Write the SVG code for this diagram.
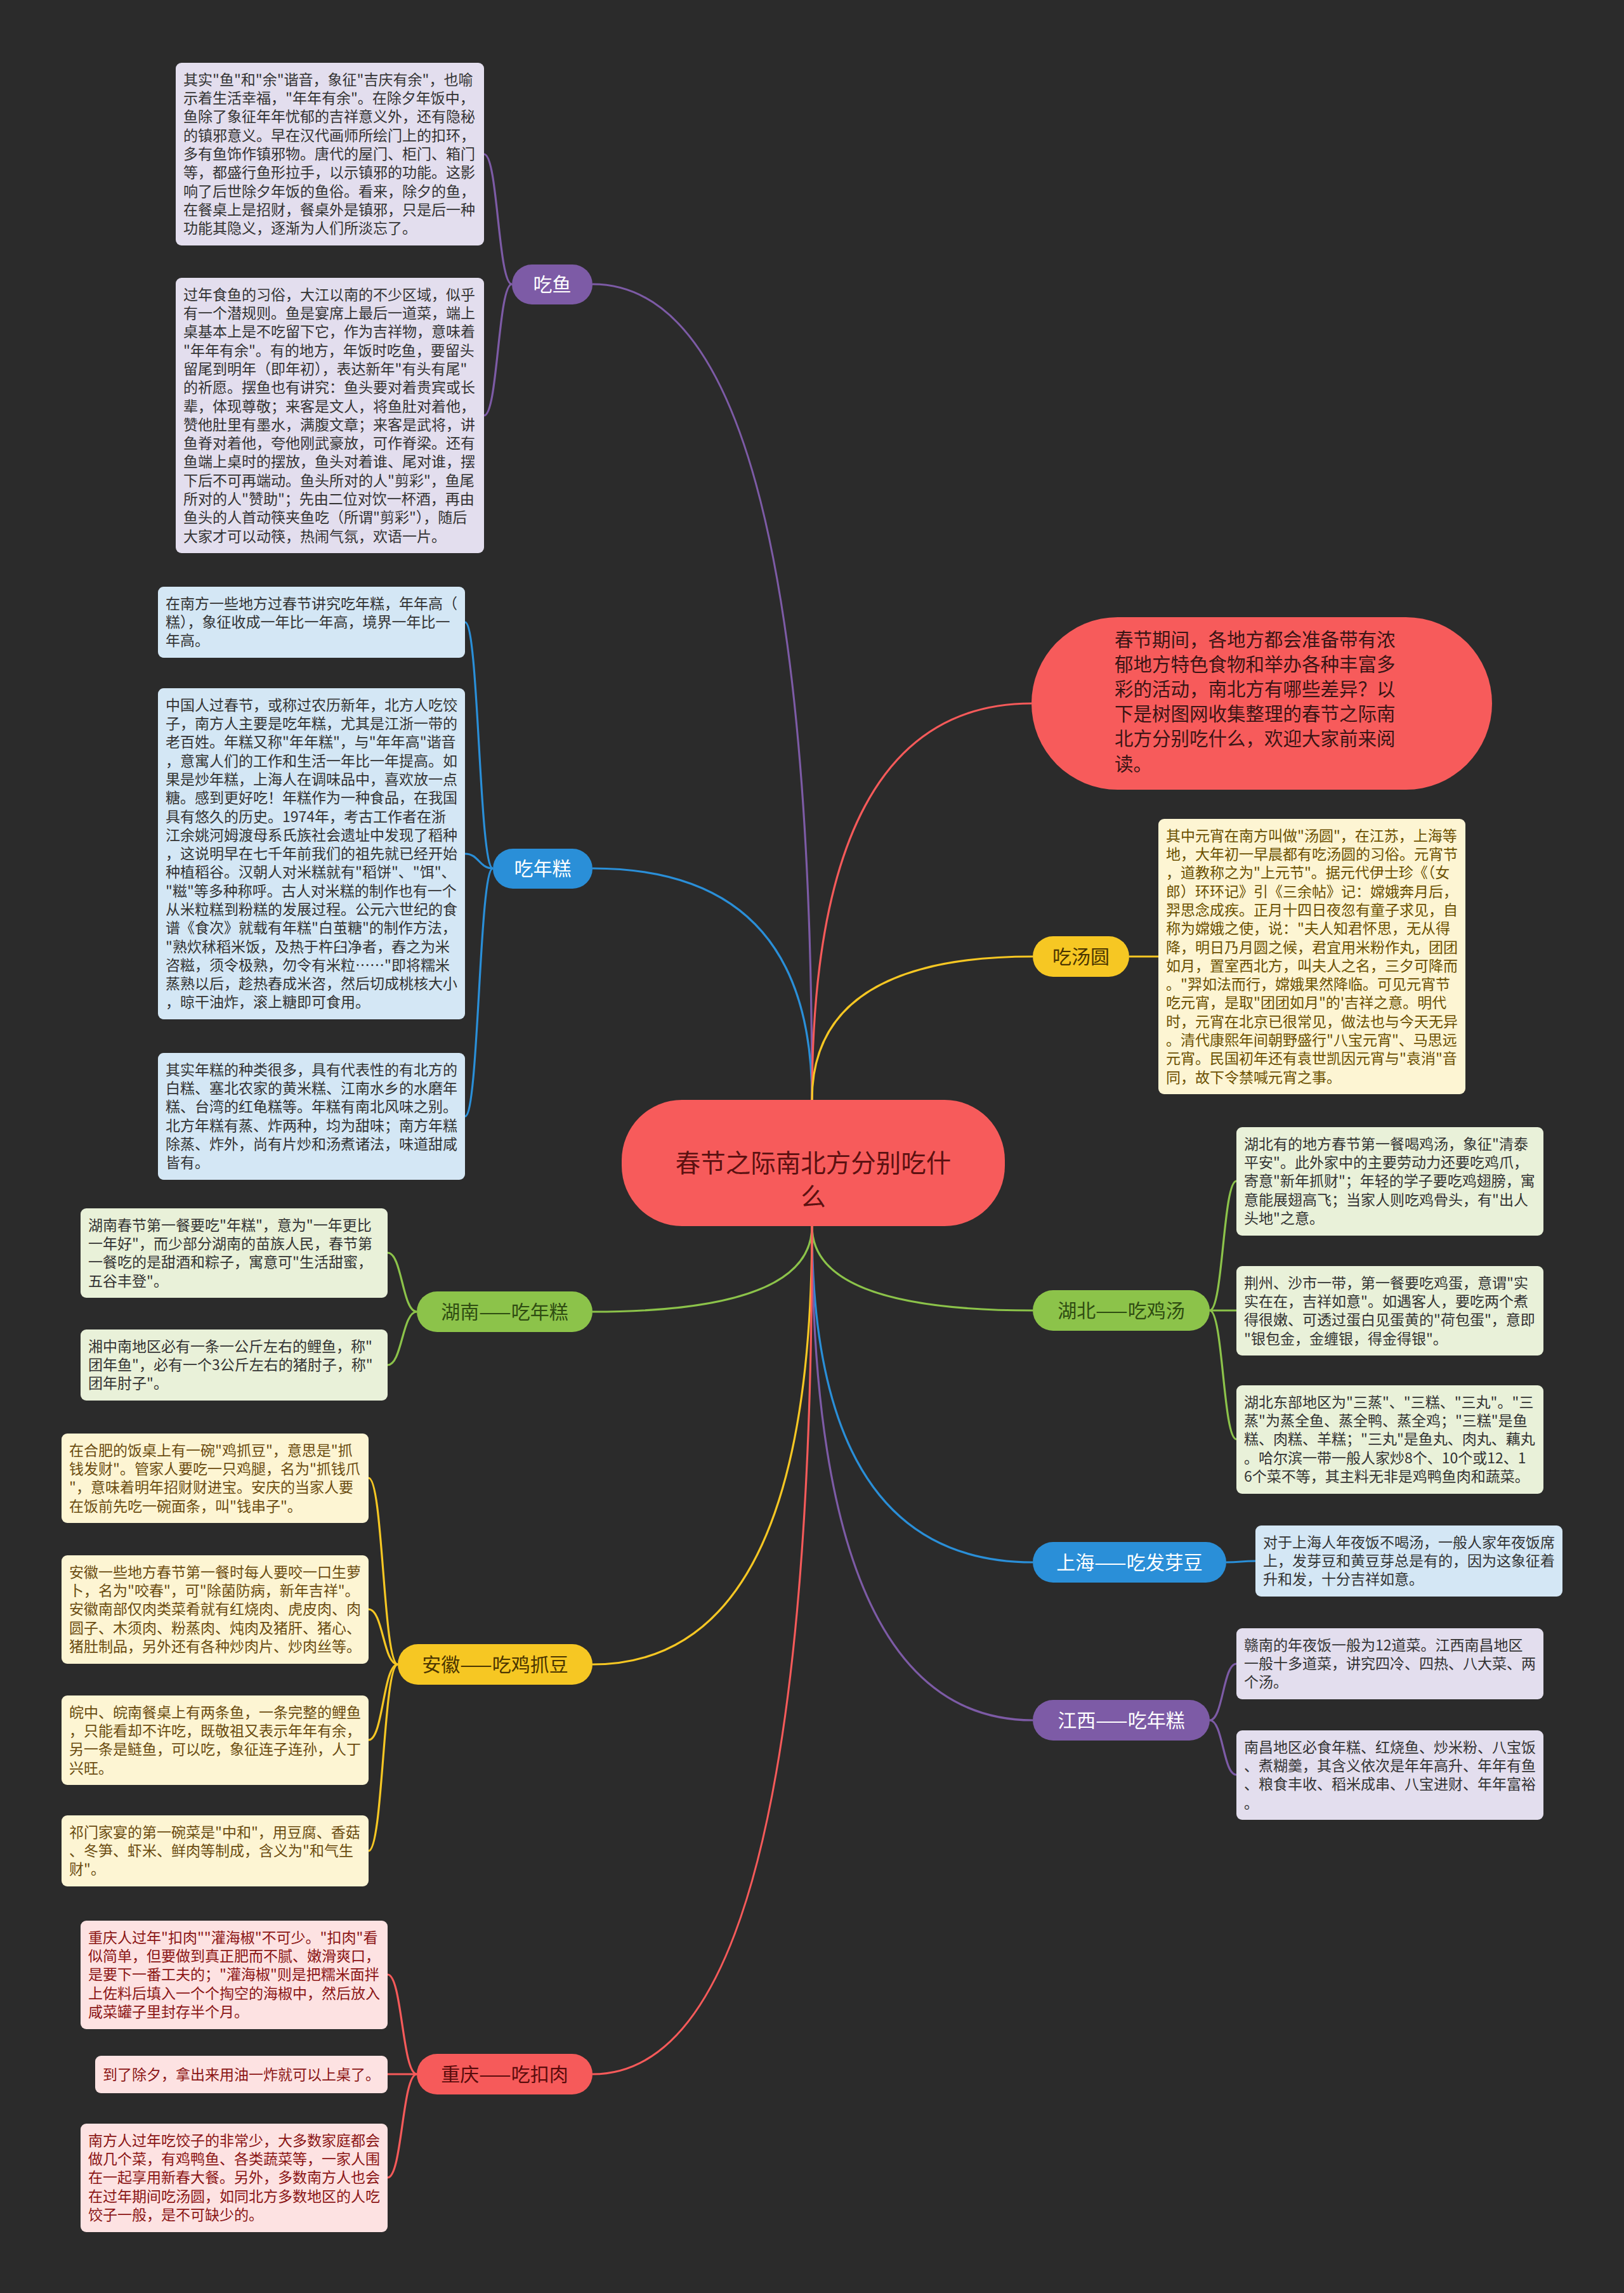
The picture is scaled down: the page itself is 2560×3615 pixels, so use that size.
<svg xmlns="http://www.w3.org/2000/svg" width="2560" height="3615" viewBox="0 0 2560 3615">
<style>
text{font-family:"Noto Sans CJK SC","Noto Sans",sans-serif}
.lt{font-size:23px}
.bt{font-size:30px;text-anchor:middle}
.box{rx:9px;ry:9px}
.c{fill:none;stroke-width:3.2}
.pu{stroke:#7d5ba6}.bl{stroke:#2a8fd8}.ye{stroke:#f6c723}.gr{stroke:#8cc34a}.re{stroke:#f65a5a}
.fpu{fill:#e3deee}.fbl{fill:#d4e7f5}.fye{fill:#fdf5d3}.fgr{fill:#e9f1d9}.fre{fill:#fde2e2}
.tdk{fill:#333333}.tye{fill:#6b5000}.tan{fill:#6b4c10}.tre{fill:#8b1515}
</style>
<rect x="0" y="0" width="2560" height="3615" fill="#2b2b2b"/>

<g id="connectors">
<path class="c pu" d="M1280 1734 Q1280 448 934 448"/>
<path class="c bl" d="M1280 1734 Q1280 1369 934 1369"/>
<path class="c re" d="M1280 1734 Q1280 1109 1626 1109"/>
<path class="c ye" d="M1280 1734 Q1280 1508 1628 1508"/>
<path class="c gr" d="M1280 1933 Q1280 2068 934 2068"/>
<path class="c gr" d="M1280 1933 Q1280 2066 1628 2066"/>
<path class="c bl" d="M1280 1933 Q1280 2463 1628 2463"/>
<path class="c pu" d="M1280 1933 Q1280 2712 1628 2712"/>
<path class="c ye" d="M1280 1933 Q1280 2624 934 2624"/>
<path class="c re" d="M1280 1933 Q1280 3270 934 3270"/>

<path class="c pu" d="M807 448 C785 448 785 243 763 243"/>
<path class="c pu" d="M807 448 C785 448 785 655 763 655"/>
<path class="c bl" d="M777 1369 C755 1369 755 981 733 981"/>
<path class="c bl" d="M777 1369 C755 1369 755 1346 733 1346"/>
<path class="c bl" d="M777 1369 C755 1369 755 1760 733 1760"/>
<path class="c gr" d="M657 2068 C634 2068 634 1975 611 1975"/>
<path class="c gr" d="M657 2068 C634 2068 634 2152 611 2152"/>
<path class="c ye" d="M627 2624 C604 2624 604 2330 581 2330"/>
<path class="c ye" d="M627 2624 C604 2624 604 2537 581 2537"/>
<path class="c ye" d="M627 2624 C604 2624 604 2743 581 2743"/>
<path class="c ye" d="M627 2624 C604 2624 604 2918 581 2918"/>
<path class="c re" d="M657 3270 C634 3270 634 3113 611 3113"/>
<path class="c re" d="M657 3270 C634 3270 634 3270 611 3270"/>
<path class="c re" d="M657 3270 C634 3270 634 3433 611 3433"/>
<path class="c ye" d="M1780 1508 C1803 1508 1803 1508 1826 1508"/>
<path class="c gr" d="M1907 2066 C1928 2066 1928 1862 1949 1862"/>
<path class="c gr" d="M1907 2066 C1928 2066 1928 2066 1949 2066"/>
<path class="c gr" d="M1907 2066 C1928 2066 1928 2269 1949 2269"/>
<path class="c bl" d="M1933 2463 C1956 2463 1956 2461 1979 2461"/>
<path class="c pu" d="M1907 2712 C1928 2712 1928 2623 1949 2623"/>
<path class="c pu" d="M1907 2712 C1928 2712 1928 2798 1949 2798"/>
</g>

<g id="root">
<rect x="980" y="1734" width="604" height="199" rx="95" fill="#f75b5b"/>
<text x="1282" y="1848" font-size="39.5" text-anchor="middle" fill="#5c1111">春节之际南北方分别吃什</text>
<text x="1282" y="1901" font-size="39.5" text-anchor="middle" fill="#5c1111">么</text>
</g>

<g id="intro">
<rect x="1626" y="973" width="726" height="272" rx="136" fill="#f75b5b"/>
<text font-size="29.5" fill="#3a1515">
<tspan x="1757" y="1018.5">春节期间，各地方都会准备带有浓</tspan>
<tspan x="1757" y="1057.7">郁地方特色食物和举办各种丰富多</tspan>
<tspan x="1757" y="1096.9">彩的活动，南北方有哪些差异？以</tspan>
<tspan x="1757" y="1136.1">下是树图网收集整理的春节之际南</tspan>
<tspan x="1757" y="1175.3">北方分别吃什么，欢迎大家前来阅</tspan>
<tspan x="1757" y="1214.5">读。</tspan>
</text>
</g>

<g id="b-chiyu">
<rect x="807" y="417" width="127" height="63" rx="31.5" fill="#7d5ba6"/>
<text class="bt" x="870.5" y="459" fill="#ffffff">吃鱼</text>
</g>
<g id="b-niangao">
<rect x="777" y="1338" width="157" height="63" rx="31.5" fill="#2a8fd8"/>
<text class="bt" x="855.5" y="1380" fill="#ffffff">吃年糕</text>
</g>
<g id="b-tangyuan">
<rect x="1628" y="1476" width="152" height="64" rx="32" fill="#f6c723"/>
<text class="bt" x="1704" y="1518.5" fill="#4a3500">吃汤圆</text>
</g>
<g id="b-hunan">
<rect x="657" y="2036" width="277" height="64" rx="32" fill="#8cc34a"/>
<text class="bt" x="795.5" y="2078.5" fill="#2f4d12">湖南——吃年糕</text>
</g>
<g id="b-hubei">
<rect x="1628" y="2034" width="279" height="64" rx="32" fill="#8cc34a"/>
<text class="bt" x="1767.5" y="2076.5" fill="#2f4d12">湖北——吃鸡汤</text>
</g>
<g id="b-shanghai">
<rect x="1628" y="2431" width="305" height="64" rx="32" fill="#2a8fd8"/>
<text class="bt" x="1780.5" y="2473.5" fill="#ffffff">上海——吃发芽豆</text>
</g>
<g id="b-jiangxi">
<rect x="1628" y="2680" width="279" height="64" rx="32" fill="#7d5ba6"/>
<text class="bt" x="1767.5" y="2722.5" fill="#ffffff">江西——吃年糕</text>
</g>
<g id="b-anhui">
<rect x="627" y="2592" width="307" height="64" rx="32" fill="#f6c723"/>
<text class="bt" x="780.5" y="2634.5" fill="#4a3500">安徽——吃鸡抓豆</text>
</g>
<g id="b-chongqing">
<rect x="657" y="3238" width="277" height="64" rx="32" fill="#f65a5a"/>
<text class="bt" x="795.5" y="3280.5" fill="#5a0c0c">重庆——吃扣肉</text>
</g>

<g id="leaf-a">
<rect class="box fpu" x="277" y="99" width="486" height="288"/>
<text class="lt tdk">
<tspan x="289" y="133.7">其实"鱼"和"余"谐音，象征"吉庆有余"，也喻</tspan>
<tspan x="289" dy="29.3">示着生活幸福，"年年有余"。在除夕年饭中，</tspan>
<tspan x="289" dy="29.3">鱼除了象征年年忧郁的吉祥意义外，还有隐秘</tspan>
<tspan x="289" dy="29.3">的镇邪意义。早在汉代画师所绘门上的扣环，</tspan>
<tspan x="289" dy="29.3">多有鱼饰作镇邪物。唐代的屋门、柜门、箱门</tspan>
<tspan x="289" dy="29.3">等，都盛行鱼形拉手，以示镇邪的功能。这影</tspan>
<tspan x="289" dy="29.3">响了后世除夕年饭的鱼俗。看来，除夕的鱼，</tspan>
<tspan x="289" dy="29.3">在餐桌上是招财，餐桌外是镇邪，只是后一种</tspan>
<tspan x="289" dy="29.3">功能其隐义，逐渐为人们所淡忘了。</tspan>
</text>
</g>

<g id="leaf-b">
<rect class="box fpu" x="277" y="438" width="486" height="434"/>
<text class="lt tdk">
<tspan x="289" y="472.7">过年食鱼的习俗，大江以南的不少区域，似乎</tspan>
<tspan x="289" dy="29.3">有一个潜规则。鱼是宴席上最后一道菜，端上</tspan>
<tspan x="289" dy="29.3">桌基本上是不吃留下它，作为吉祥物，意味着</tspan>
<tspan x="289" dy="29.3">"年年有余"。有的地方，年饭时吃鱼，要留头</tspan>
<tspan x="289" dy="29.3">留尾到明年（即年初），表达新年"有头有尾"</tspan>
<tspan x="289" dy="29.3">的祈愿。摆鱼也有讲究：鱼头要对着贵宾或长</tspan>
<tspan x="289" dy="29.3">辈，体现尊敬；来客是文人，将鱼肚对着他，</tspan>
<tspan x="289" dy="29.3">赞他肚里有墨水，满腹文章；来客是武将，讲</tspan>
<tspan x="289" dy="29.3">鱼脊对着他，夸他刚武豪放，可作脊梁。还有</tspan>
<tspan x="289" dy="29.3">鱼端上桌时的摆放，鱼头对着谁、尾对谁，摆</tspan>
<tspan x="289" dy="29.3">下后不可再端动。鱼头所对的人"剪彩"，鱼尾</tspan>
<tspan x="289" dy="29.3">所对的人"赞助"；先由二位对饮一杯酒，再由</tspan>
<tspan x="289" dy="29.3">鱼头的人首动筷夹鱼吃（所谓"剪彩"），随后</tspan>
<tspan x="289" dy="29.3">大家才可以动筷，热闹气氛，欢语一片。</tspan>
</text>
</g>

<g id="leaf-c">
<rect class="box fbl" x="249" y="925" width="484" height="112"/>
<text class="lt tdk">
<tspan x="261" y="959.7">在南方一些地方过春节讲究吃年糕，年年高（</tspan>
<tspan x="261" dy="29.3">糕），象征收成一年比一年高，境界一年比一</tspan>
<tspan x="261" dy="29.3">年高。</tspan>
</text>
</g>

<g id="leaf-d">
<rect class="box fbl" x="249" y="1085" width="484" height="522"/>
<text class="lt tdk">
<tspan x="261" y="1119.7">中国人过春节，或称过农历新年，北方人吃饺</tspan>
<tspan x="261" dy="29.3">子，南方人主要是吃年糕，尤其是江浙一带的</tspan>
<tspan x="261" dy="29.3">老百姓。年糕又称"年年糕"，与"年年高"谐音</tspan>
<tspan x="261" dy="29.3">，意寓人们的工作和生活一年比一年提高。如</tspan>
<tspan x="261" dy="29.3">果是炒年糕，上海人在调味品中，喜欢放一点</tspan>
<tspan x="261" dy="29.3">糖。感到更好吃！年糕作为一种食品，在我国</tspan>
<tspan x="261" dy="29.3">具有悠久的历史。1974年，考古工作者在浙</tspan>
<tspan x="261" dy="29.3">江余姚河姆渡母系氏族社会遗址中发现了稻种</tspan>
<tspan x="261" dy="29.3">，这说明早在七千年前我们的祖先就已经开始</tspan>
<tspan x="261" dy="29.3">种植稻谷。汉朝人对米糕就有"稻饼"、"饵"、</tspan>
<tspan x="261" dy="29.3">"糍"等多种称呼。古人对米糕的制作也有一个</tspan>
<tspan x="261" dy="29.3">从米粒糕到粉糕的发展过程。公元六世纪的食</tspan>
<tspan x="261" dy="29.3">谱《食次》就载有年糕"白茧糖"的制作方法，</tspan>
<tspan x="261" dy="29.3">"熟炊秫稻米饭，及热于杵臼净者，舂之为米</tspan>
<tspan x="261" dy="29.3">咨糍，须令极熟，勿令有米粒……"即将糯米</tspan>
<tspan x="261" dy="29.3">蒸熟以后，趁热舂成米咨，然后切成桃核大小</tspan>
<tspan x="261" dy="29.3">，晾干油炸，滚上糖即可食用。</tspan>
</text>
</g>

<g id="leaf-e">
<rect class="box fbl" x="249" y="1660" width="484" height="200"/>
<text class="lt tdk">
<tspan x="261" y="1694.7">其实年糕的种类很多，具有代表性的有北方的</tspan>
<tspan x="261" dy="29.3">白糕、塞北农家的黄米糕、江南水乡的水磨年</tspan>
<tspan x="261" dy="29.3">糕、台湾的红龟糕等。年糕有南北风味之别。</tspan>
<tspan x="261" dy="29.3">北方年糕有蒸、炸两种，均为甜味；南方年糕</tspan>
<tspan x="261" dy="29.3">除蒸、炸外，尚有片炒和汤煮诸法，味道甜咸</tspan>
<tspan x="261" dy="29.3">皆有。</tspan>
</text>
</g>

<g id="leaf-f">
<rect class="box fye" x="1826" y="1291" width="484" height="434"/>
<text class="lt tye">
<tspan x="1838" y="1325.7">其中元宵在南方叫做"汤圆"，在江苏，上海等</tspan>
<tspan x="1838" dy="29.3">地，大年初一早晨都有吃汤圆的习俗。元宵节</tspan>
<tspan x="1838" dy="29.3">，道教称之为"上元节"。据元代伊士珍《（女</tspan>
<tspan x="1838" dy="29.3">郎）环环记》引《三余帖》记：嫦娥奔月后，</tspan>
<tspan x="1838" dy="29.3">羿思念成疾。正月十四日夜忽有童子求见，自</tspan>
<tspan x="1838" dy="29.3">称为嫦娥之使，说："夫人知君怀思，无从得</tspan>
<tspan x="1838" dy="29.3">降，明日乃月圆之候，君宜用米粉作丸，团团</tspan>
<tspan x="1838" dy="29.3">如月，置室西北方，叫夫人之名，三夕可降而</tspan>
<tspan x="1838" dy="29.3">。"羿如法而行，嫦娥果然降临。可见元宵节</tspan>
<tspan x="1838" dy="29.3">吃元宵，是取"团团如月"的'吉祥之意。明代</tspan>
<tspan x="1838" dy="29.3">时，元宵在北京已很常见，做法也与今天无异</tspan>
<tspan x="1838" dy="29.3">。清代康熙年间朝野盛行"八宝元宵"、马思远</tspan>
<tspan x="1838" dy="29.3">元宵。民国初年还有袁世凯因元宵与"袁消"音</tspan>
<tspan x="1838" dy="29.3">同，故下令禁喊元宵之事。</tspan>
</text>
</g>

<g id="leaf-g1">
<rect class="box fgr" x="1949" y="1777" width="484" height="171"/>
<text class="lt tdk">
<tspan x="1961" y="1811.7">湖北有的地方春节第一餐喝鸡汤，象征"清泰</tspan>
<tspan x="1961" dy="29.3">平安"。此外家中的主要劳动力还要吃鸡爪，</tspan>
<tspan x="1961" dy="29.3">寄意"新年抓财"；年轻的学子要吃鸡翅膀，寓</tspan>
<tspan x="1961" dy="29.3">意能展翅高飞；当家人则吃鸡骨头，有"出人</tspan>
<tspan x="1961" dy="29.3">头地"之意。</tspan>
</text>
</g>

<g id="leaf-g2">
<rect class="box fgr" x="1949" y="1996" width="484" height="141"/>
<text class="lt tdk">
<tspan x="1961" y="2030.7">荆州、沙市一带，第一餐要吃鸡蛋，意谓"实</tspan>
<tspan x="1961" dy="29.3">实在在，吉祥如意"。如遇客人，要吃两个煮</tspan>
<tspan x="1961" dy="29.3">得很嫩、可透过蛋白见蛋黄的"荷包蛋"，意即</tspan>
<tspan x="1961" dy="29.3">"银包金，金缠银，得金得银"。</tspan>
</text>
</g>

<g id="leaf-g3">
<rect class="box fgr" x="1949" y="2184" width="484" height="171"/>
<text class="lt tdk">
<tspan x="1961" y="2218.7">湖北东部地区为"三蒸"、"三糕、"三丸"。"三</tspan>
<tspan x="1961" dy="29.3">蒸"为蒸全鱼、蒸全鸭、蒸全鸡；"三糕"是鱼</tspan>
<tspan x="1961" dy="29.3">糕、肉糕、羊糕；"三丸"是鱼丸、肉丸、藕丸</tspan>
<tspan x="1961" dy="29.3">。哈尔滨一带一般人家炒8个、10个或12、1</tspan>
<tspan x="1961" dy="29.3">6个菜不等，其主料无非是鸡鸭鱼肉和蔬菜。</tspan>
</text>
</g>

<g id="leaf-h1">
<rect class="box fgr" x="127" y="1905" width="484" height="141"/>
<text class="lt tdk">
<tspan x="139" y="1939.7">湖南春节第一餐要吃"年糕"，意为"一年更比</tspan>
<tspan x="139" dy="29.3">一年好"，而少部分湖南的苗族人民，春节第</tspan>
<tspan x="139" dy="29.3">一餐吃的是甜酒和粽子，寓意可"生活甜蜜，</tspan>
<tspan x="139" dy="29.3">五谷丰登"。</tspan>
</text>
</g>

<g id="leaf-h2">
<rect class="box fgr" x="127" y="2096" width="484" height="112"/>
<text class="lt tdk">
<tspan x="139" y="2130.7">湘中南地区必有一条一公斤左右的鲤鱼，称"</tspan>
<tspan x="139" dy="29.3">团年鱼"，必有一个3公斤左右的猪肘子，称"</tspan>
<tspan x="139" dy="29.3">团年肘子"。</tspan>
</text>
</g>

<g id="leaf-i1">
<rect class="box fye" x="97" y="2260" width="484" height="141"/>
<text class="lt tan">
<tspan x="109" y="2294.7">在合肥的饭桌上有一碗"鸡抓豆"，意思是"抓</tspan>
<tspan x="109" dy="29.3">钱发财"。管家人要吃一只鸡腿，名为"抓钱爪</tspan>
<tspan x="109" dy="29.3">"，意味着明年招财财进宝。安庆的当家人要</tspan>
<tspan x="109" dy="29.3">在饭前先吃一碗面条，叫"钱串子"。</tspan>
</text>
</g>

<g id="leaf-i2">
<rect class="box fye" x="97" y="2452" width="484" height="171"/>
<text class="lt tan">
<tspan x="109" y="2486.7">安徽一些地方春节第一餐时每人要咬一口生萝</tspan>
<tspan x="109" dy="29.3">卜，名为"咬春"，可"除菌防病，新年吉祥"。</tspan>
<tspan x="109" dy="29.3">安徽南部仅肉类菜肴就有红烧肉、虎皮肉、肉</tspan>
<tspan x="109" dy="29.3">圆子、木须肉、粉蒸肉、炖肉及猪肝、猪心、</tspan>
<tspan x="109" dy="29.3">猪肚制品，另外还有各种炒肉片、炒肉丝等。</tspan>
</text>
</g>

<g id="leaf-i3">
<rect class="box fye" x="97" y="2673" width="484" height="141"/>
<text class="lt tan">
<tspan x="109" y="2707.7">皖中、皖南餐桌上有两条鱼，一条完整的鲤鱼</tspan>
<tspan x="109" dy="29.3">，只能看却不许吃，既敬祖又表示年年有余，</tspan>
<tspan x="109" dy="29.3">另一条是鲢鱼，可以吃，象征连子连孙，人丁</tspan>
<tspan x="109" dy="29.3">兴旺。</tspan>
</text>
</g>

<g id="leaf-i4">
<rect class="box fye" x="97" y="2862" width="484" height="112"/>
<text class="lt tan">
<tspan x="109" y="2896.7">祁门家宴的第一碗菜是"中和"，用豆腐、香菇</tspan>
<tspan x="109" dy="29.3">、冬笋、虾米、鲜肉等制成，含义为"和气生</tspan>
<tspan x="109" dy="29.3">财"。</tspan>
</text>
</g>

<g id="leaf-j1">
<rect class="box fre" x="127" y="3028" width="484" height="171"/>
<text class="lt tre">
<tspan x="139" y="3062.7">重庆人过年"扣肉""灌海椒"不可少。"扣肉"看</tspan>
<tspan x="139" dy="29.3">似简单，但要做到真正肥而不腻、嫩滑爽口，</tspan>
<tspan x="139" dy="29.3">是要下一番工夫的；"灌海椒"则是把糯米面拌</tspan>
<tspan x="139" dy="29.3">上佐料后填入一个个掏空的海椒中，然后放入</tspan>
<tspan x="139" dy="29.3">咸菜罐子里封存半个月。</tspan>
</text>
</g>

<g id="leaf-j2">
<rect class="box fre" x="150" y="3241" width="461" height="59"/>
<text class="lt tre" x="162" y="3278.5">到了除夕，拿出来用油一炸就可以上桌了。</text>
</g>

<g id="leaf-j3">
<rect class="box fre" x="127" y="3348" width="484" height="171"/>
<text class="lt tre">
<tspan x="139" y="3382.7">南方人过年吃饺子的非常少，大多数家庭都会</tspan>
<tspan x="139" dy="29.3">做几个菜，有鸡鸭鱼、各类蔬菜等，一家人围</tspan>
<tspan x="139" dy="29.3">在一起享用新春大餐。另外，多数南方人也会</tspan>
<tspan x="139" dy="29.3">在过年期间吃汤圆，如同北方多数地区的人吃</tspan>
<tspan x="139" dy="29.3">饺子一般，是不可缺少的。</tspan>
</text>
</g>

<g id="leaf-k">
<rect class="box fbl" x="1979" y="2405" width="484" height="112"/>
<text class="lt tdk">
<tspan x="1991" y="2439.7">对于上海人年夜饭不喝汤，一般人家年夜饭席</tspan>
<tspan x="1991" dy="29.3">上，发芽豆和黄豆芽总是有的，因为这象征着</tspan>
<tspan x="1991" dy="29.3">升和发，十分吉祥如意。</tspan>
</text>
</g>

<g id="leaf-l1">
<rect class="box fpu" x="1949" y="2567" width="484" height="112"/>
<text class="lt tdk">
<tspan x="1961" y="2601.7">赣南的年夜饭一般为12道菜。江西南昌地区</tspan>
<tspan x="1961" dy="29.3">一般十多道菜，讲究四冷、四热、八大菜、两</tspan>
<tspan x="1961" dy="29.3">个汤。</tspan>
</text>
</g>

<g id="leaf-l2">
<rect class="box fpu" x="1949" y="2728" width="484" height="141"/>
<text class="lt tdk">
<tspan x="1961" y="2762.7">南昌地区必食年糕、红烧鱼、炒米粉、八宝饭</tspan>
<tspan x="1961" dy="29.3">、煮糊羹，其含义依次是年年高升、年年有鱼</tspan>
<tspan x="1961" dy="29.3">、粮食丰收、稻米成串、八宝进财、年年富裕</tspan>
<tspan x="1961" dy="29.3">。</tspan>
</text>
</g>
</svg>
